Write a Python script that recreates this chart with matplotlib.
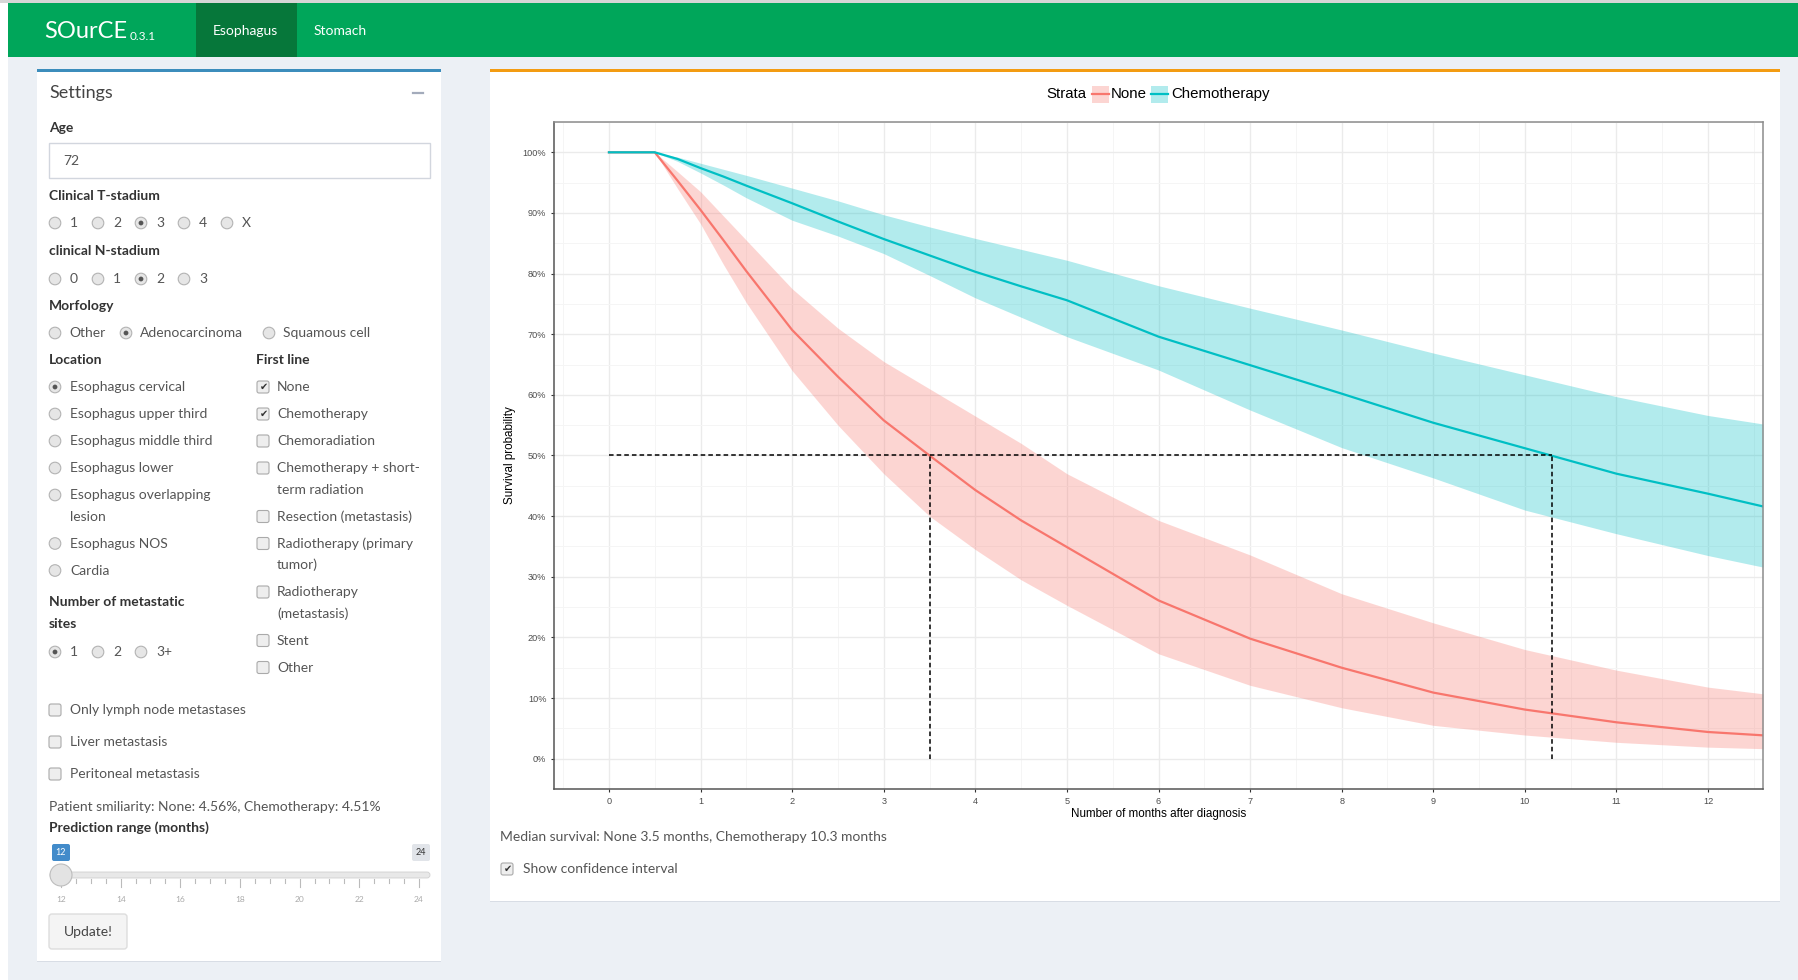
import matplotlib
matplotlib.use("Agg")
import matplotlib.pyplot as plt
from matplotlib.patches import Rectangle, Circle, FancyBboxPatch
from matplotlib.ticker import FuncFormatter, MultipleLocator

# Kaplan-Meier estimates, months after diagnosis
months = [0, 0.5, 0.75, 1, 1.25, 1.5, 2, 2.5, 3, 3.5, 4, 4.5, 5, 6, 7, 8, 9, 10, 11, 12, 12.6]
none_surv = [1, 1, 0.953, 0.905, 0.855, 0.804, 0.707, 0.630, 0.558, 0.50, 0.443, 0.393, 0.349,
             0.261, 0.198, 0.150, 0.109, 0.081, 0.060, 0.044, 0.0385]
none_lower = [1, 1, 0.94, 0.882, 0.815, 0.752, 0.64, 0.55, 0.47, 0.40, 0.345, 0.295, 0.253,
              0.173, 0.121, 0.084, 0.055, 0.039, 0.027, 0.019, 0.0165]
none_upper = [1, 1, 0.968, 0.935, 0.895, 0.855, 0.775, 0.71, 0.655, 0.61, 0.565, 0.52, 0.47,
              0.393, 0.336, 0.272, 0.224, 0.180, 0.146, 0.118, 0.107]
chemo_surv = [1, 1, 0.989, 0.974, 0.96, 0.945, 0.916, 0.886, 0.857, 0.83, 0.803, 0.779, 0.756,
              0.696, 0.649, 0.602, 0.554, 0.512, 0.470, 0.437, 0.416]
chemo_lower = [1, 1, 0.985, 0.966, 0.946, 0.925, 0.888, 0.862, 0.833, 0.797, 0.76, 0.728, 0.696,
               0.641, 0.575, 0.513, 0.463, 0.41, 0.371, 0.335, 0.316]
chemo_upper = [1, 1, 0.992, 0.982, 0.972, 0.962, 0.941, 0.92, 0.897, 0.877, 0.858, 0.84, 0.822,
               0.78, 0.743, 0.707, 0.669, 0.633, 0.597, 0.566, 0.552]
strata = ["None", "Chemotherapy"]
medians = [3.5, 10.3]
x_ticks = list(range(0, 13))
y_ticks = [i / 10 for i in range(11)]

# sidebar inputs
age = "72"
t_stadium = ["1", "2", "3", "4", "X"]
t_selected = "3"
n_stadium = ["0", "1", "2", "3"]
n_selected = "2"
morfology = ["Other", "Adenocarcinoma", "Squamous cell"]
morfology_selected = "Adenocarcinoma"
locations = ["Esophagus cervical", "Esophagus upper third", "Esophagus middle third",
             "Esophagus lower", "Esophagus overlapping\nlesion", "Esophagus NOS", "Cardia"]
location_selected = "Esophagus cervical"
first_line = ["None", "Chemotherapy", "Chemoradiation", "Chemotherapy + short-\nterm radiation",
              "Resection (metastasis)", "Radiotherapy (primary\ntumor)", "Radiotherapy\n(metastasis)",
              "Stent", "Other"]
first_line_checked = ["None", "Chemotherapy"]
metastatic_sites = ["1", "2", "3+"]
sites_selected = "1"
metastases = ["Only lymph node metastases", "Liver metastasis", "Peritoneal metastasis"]
similarity = [4.56, 4.51]
slider_labels = [12, 14, 16, 18, 20, 22, 24]
slider_value = 12

W, H = 1799, 980
plt.rcParams['font.family'] = ['Lato', 'DejaVu Sans']
fig = plt.figure(figsize=(W / 100, H / 100), dpi=100)
fig.patch.set_facecolor('#ECF0F5')

# page canvas in pixel units, y downwards
pg = fig.add_axes([0, 0, 1, 1])
pg.set_xlim(0, W)
pg.set_ylim(H, 0)
pg.axis('off')
pg.set_zorder(0)

TXT = '#333333'
OPT = '#555555'
UI = 10.0


def rect(x0, y0, x1, y1, **kw):
    pg.add_patch(Rectangle((x0, y0), x1 - x0, y1 - y0, **kw))


def label(x, y, s, size=UI, color=OPT, **kw):
    pg.text(x, y, s, fontsize=size, color=color, va='center', ha=kw.pop('ha', 'left'), **kw)


def radio(x, y, on):
    pg.add_patch(Circle((x, y), 5.8, fc='#e6e6e6', ec='#b3b3b3', lw=0.8))
    if on:
        pg.add_patch(Circle((x, y), 2.4, fc='#555555', ec='none'))


def checkbox(x, y, on):
    pg.add_patch(FancyBboxPatch((x - 6, y - 6), 12, 12, boxstyle='round,pad=0,rounding_size=2',
                                fc='#eeeeee', ec='#aaaaaa', lw=0.8))
    if on:
        pg.text(x + 0.5, y, '\u2714', fontsize=7, color='#333333', va='center', ha='center',
                family='DejaVu Sans')


def option_lines(x, y, s, **kw):
    for k, line in enumerate(s.split('\n')):
        label(x, y + 21.5 * k, line, **kw)
    return len(s.split('\n'))


# edges and navbar
rect(0, 0, 8, H, fc='white', ec='none')
rect(8, 3, W, 57, fc='#00A65A', ec='none')
rect(196, 3, 297, 57, fc='#06773A', ec='none')
rect(0, 0, W, 3, fc='#d6d6d6', ec='none')
pg.text(44, 32, 'SOurCE', fontsize=17, color='white', va='center')
pg.text(130, 36, '0.3.1', fontsize=8.5, color='white', va='center')
pg.text(213, 31, 'Esophagus', fontsize=10, color='white', va='center')
pg.text(314, 31, 'Stomach', fontsize=10, color='white', va='center')

# settings box
rect(37, 70, 441, 962, fc='#d8dde5', ec='none')
rect(37, 69, 441, 961, fc='white', ec='none')
rect(37, 69, 441, 72, fc='#3C8DBC', ec='none')
label(49, 93, 'Settings', size=13, color='#444444')
pg.plot([413, 423], [93, 93], color='#a3abbb', lw=1.6)

label(49, 128, 'Age', color=TXT, weight='bold')
rect(49, 143, 430, 178, fc='white', ec='#d2d6de', lw=1)
label(63, 161, age)

label(49, 196, 'Clinical T-stadium', color=TXT, weight='bold')
for k, v in enumerate(t_stadium):
    radio(55 + 43 * k, 223, v == t_selected)
    label(70 + 43 * k, 223, v)

label(49, 251, 'clinical N-stadium', color=TXT, weight='bold')
for k, v in enumerate(n_stadium):
    radio(55 + 43 * k, 279, v == n_selected)
    label(70 + 43 * k, 279, v)

label(49, 306, 'Morfology', color=TXT, weight='bold')
for cx, v in zip([55, 126, 269], morfology):
    radio(cx, 333, v == morfology_selected)
    label(cx + 14, 333, v)

label(49, 360, 'Location', color=TXT, weight='bold')
y = 387
for v in locations:
    radio(55, y, v == location_selected)
    n = option_lines(70, y, v)
    y += 27 + 21.5 * (n - 1)

label(256, 360, 'First line', color=TXT, weight='bold')
y = 387
for v in first_line:
    checkbox(263, y, v in first_line_checked)
    n = option_lines(277, y, v)
    y += 27 + 21.5 * (n - 1)

label(49, 602, 'Number of metastatic', color=TXT, weight='bold')
label(49, 624, 'sites', color=TXT, weight='bold')
for k, v in enumerate(metastatic_sites):
    radio(55 + 43 * k, 652, v == sites_selected)
    label(70 + 43 * k, 652, v)

for k, v in enumerate(metastases):
    checkbox(55, 710 + 32 * k, False)
    label(70, 710 + 32 * k, v)

label(49, 807, 'Patient smiliarity: %s: %.2f%%, %s: %.2f%%'
      % (strata[0], similarity[0], strata[1], similarity[1]))
label(49, 828, 'Prediction range (months)', color=TXT, weight='bold')

# range slider
sx0, sx1 = 61, 419
lo, hi = slider_labels[0], slider_labels[-1]
pg.add_patch(FancyBboxPatch((50, 872), 380, 6, boxstyle='round,pad=0,rounding_size=3',
                            fc='#e8e8e8', ec='#d0d0d0', lw=0.6))
steps = int((hi - lo) / 0.5)
for i in range(steps + 1):
    val = lo + 0.5 * i
    tx = sx0 + (val - lo) * (sx1 - sx0) / (hi - lo)
    major = val in slider_labels
    pg.plot([tx, tx], [879, 887 if major else 883], color='#bbbbbb', lw=0.8)
for val in slider_labels:
    tx = sx0 + (val - lo) * (sx1 - sx0) / (hi - lo)
    pg.text(tx, 899, str(val), fontsize=6, color='#aaaaaa', ha='center', va='center')
hx = sx0 + (slider_value - lo) * (sx1 - sx0) / (hi - lo)
pg.add_patch(Circle((hx, 875), 11, fc='#e3e3e3', ec='#bdbdbd', lw=0.8, zorder=3))
pg.add_patch(FancyBboxPatch((hx - 9, 844), 18, 17, boxstyle='round,pad=0,rounding_size=2',
                            fc='#428BCA', ec='none'))
pg.text(hx, 852.5, str(slider_value), fontsize=6.5, color='white', ha='center', va='center')
pg.add_patch(FancyBboxPatch((412, 844), 18, 17, boxstyle='round,pad=0,rounding_size=2',
                            fc='#e1e4e9', ec='none'))
pg.text(421, 852.5, str(hi), fontsize=6.5, color='#333333', ha='center', va='center')

pg.add_patch(FancyBboxPatch((49, 914), 78, 35, boxstyle='round,pad=0,rounding_size=3',
                            fc='#f4f4f4', ec='#dddddd', lw=1))
label(88, 931.5, 'Update!', ha='center', color='#444444')

# result box
rect(490, 70, 1780, 902, fc='#d8dde5', ec='none')
rect(490, 69, 1780, 901, fc='white', ec='none')
rect(490, 69, 1780, 72, fc='#F39C12', ec='none')
label(500, 837, 'Median survival: %s %.1f months, %s %.1f months'
      % (strata[0], medians[0], strata[1], medians[1]))
checkbox(507, 869, True)
label(523, 869, 'Show confidence interval')

# survival plot
left, right, top, bottom = 554, 1763, 122, 789
ax = fig.add_axes([left / W, 1 - bottom / H, (right - left) / W, (bottom - top) / H])
ax.set_zorder(2)
colors = ['#F8766D', '#00BFC4']
series = [(none_surv, none_lower, none_upper), (chemo_surv, chemo_lower, chemo_upper)]
for (surv, lower, upper), c in zip(series, colors):
    ax.fill_between(months, lower, upper, color=c, alpha=0.3, lw=0)
    ax.plot(months, surv, color=c, lw=1.6, solid_joinstyle='round')
ax.hlines(0.5, 0, max(medians), colors='black', lw=1.1, linestyles=(0, (3.0, 2.0)))
ax.vlines(medians, 0, 0.5, colors='black', lw=1.1, linestyles=(0, (3.0, 2.0)))

ax.set_xlim(-0.6, 12.6)
ax.set_ylim(-0.05, 1.05)
ax.set_xticks(x_ticks)
ax.set_yticks(y_ticks)
ax.xaxis.set_minor_locator(MultipleLocator(0.5))
ax.yaxis.set_minor_locator(MultipleLocator(0.05))
ax.yaxis.set_major_formatter(FuncFormatter(lambda v, p: '%d%%' % round(v * 100)))
ax.set_axisbelow(True)
ax.grid(which='major', color='#EBEBEB', lw=1.0)
ax.grid(which='minor', color='#F5F5F5', lw=0.7)
ax.tick_params(which='major', length=2.5, width=0.8, color='#333333', labelsize=6.6,
               labelcolor='#4D4D4D', pad=3)
ax.tick_params(which='minor', length=0)
for lab in ax.get_xticklabels() + ax.get_yticklabels():
    lab.set_family('Liberation Sans')
for side in ['top', 'right']:
    ax.spines[side].set_color('#8c8c8c')
for side in ['left', 'bottom']:
    ax.spines[side].set_color('#555555')
for sp in ax.spines.values():
    sp.set_linewidth(1.1)
ax.set_xlabel('Number of months after diagnosis', fontsize=8.4, family='Liberation Sans', labelpad=2)
ax.set_ylabel('Survival probability', fontsize=8.4, family='Liberation Sans', labelpad=5)

# legend above the panel
LEG = 10.8
pg.text(1046, 94, 'Strata', fontsize=LEG, family='Liberation Sans', va='center')
for kx, c, name, tx in zip([1092, 1151], colors, strata, [1111, 1171]):
    rect(kx, 86, kx + 17, 103, fc=c, alpha=0.3, ec='none')
    pg.plot([kx, kx + 17], [94.5, 94.5], color=c, lw=1.6)
    pg.text(tx, 94, name, fontsize=LEG, family='Liberation Sans', va='center')

fig.savefig('out.png', dpi=100, facecolor=fig.get_facecolor())
